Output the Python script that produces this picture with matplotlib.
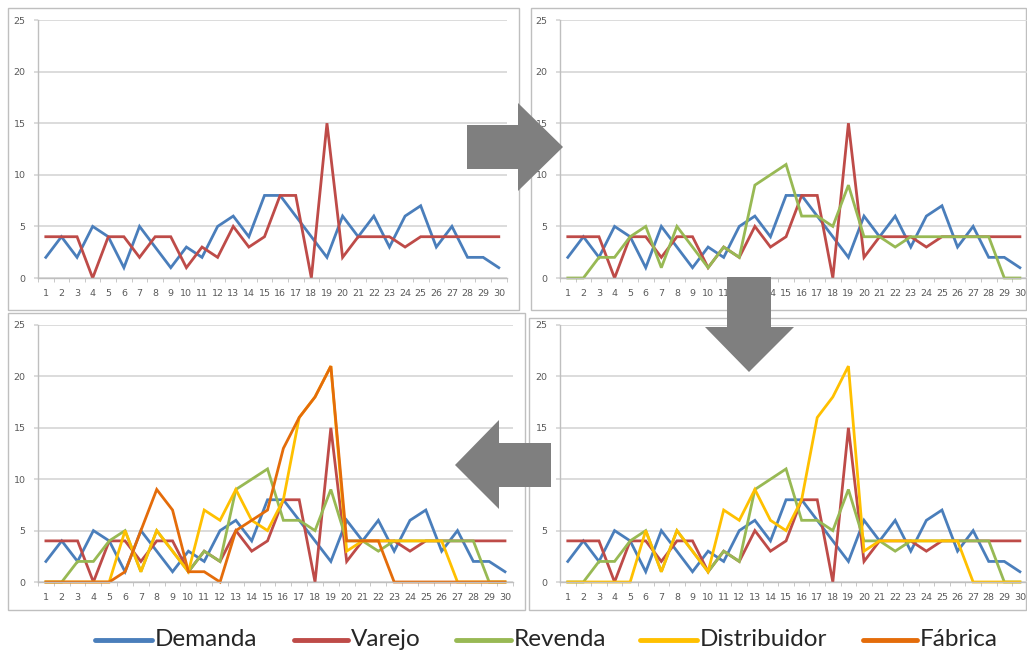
import matplotlib
matplotlib.use("Agg")
import matplotlib.pyplot as plt
from matplotlib.patches import Polygon, Rectangle
from matplotlib.lines import Line2D

W, H = 1027, 658

days = list(range(1, 31))
demanda = [2, 4, 2, 5, 4, 1, 5, 3, 1, 3, 2, 5, 6, 4, 8, 8, 6, 4, 2, 6, 4, 6, 3, 6, 7, 3, 5, 2, 2, 1]
varejo = [4, 4, 4, 0, 4, 4, 2, 4, 4, 1, 3, 2, 5, 3, 4, 8, 8, 0, 15, 2, 4, 4, 4, 3, 4, 4, 4, 4, 4, 4]
revenda = [0, 0, 2, 2, 4, 5, 1, 5, 3, 1, 3, 2, 9, 10, 11, 6, 6, 5, 9, 4, 4, 3, 4, 4, 4, 4, 4, 4, 0, 0]
distribuidor = [0, 0, 0, 0, 0, 5, 1, 5, 3, 1, 7, 6, 9, 6, 5, 8, 16, 18, 21, 3, 4, 4, 4, 4, 4, 4, 0, 0, 0, 0]
fabrica = [0, 0, 0, 0, 0, 1, 5, 9, 7, 1, 1, 0, 5, 6, 7, 13, 16, 18, 21, 4, 4, 4, 0, 0, 0, 0, 0, 0, 0, 0]

series_names = ["Demanda", "Varejo", "Revenda", "Distribuidor", "Fábrica"]
series_values = [demanda, varejo, revenda, distribuidor, fabrica]
series_colors = ["#4A7EBB", "#BE4B48", "#98B954", "#FFC000", "#E46C0A"]
y_ticks = [0, 5, 10, 15, 20, 25]

fig = plt.figure(figsize=(W / 100, H / 100), dpi=100)
fig.patch.set_facecolor("white")


def fx(px):
    return px / W


def fy(py):
    return 1 - py / H


# chart frames
frames = [(8, 8, 519, 310), (531, 8, 1026, 310), (8, 313, 525, 610), (529, 318, 1026, 610)]
for x0, y0, x1, y1 in frames:
    fig.patches.append(Rectangle((fx(x0), fy(y1)), fx(x1) - fx(x0), fy(y0) - fy(y1),
                                 transform=fig.transFigure, facecolor="none",
                                 edgecolor="#BFBFBF", linewidth=1.0, zorder=-1))

# plot areas: (left px, top px, bottom px, category width px), number of series shown
panels = [
    ((38, 20, 278, 15.62), 2),
    ((560, 20, 278, 15.59), 3),
    ((38, 325, 582, 15.83), 5),
    ((560, 325, 582, 15.59), 4),
]

for (left, top, bottom, cw), n in panels:
    width = cw * 30
    ax = fig.add_axes([fx(left), fy(bottom), width / W, (bottom - top) / H])
    ax.set_facecolor("none")
    ax.set_xlim(0.5, 30.5)
    ax.set_ylim(0, 25)
    ax.set_yticks(y_ticks)
    ax.yaxis.grid(True, color="#D9D9D9", linewidth=1.3)
    ax.set_axisbelow(True)
    for s in ("top", "right"):
        ax.spines[s].set_visible(False)
    ax.spines["left"].set_color("#BFBFBF")
    ax.spines["bottom"].set_color("#BFBFBF")
    ax.spines["left"].set_linewidth(1.0)
    ax.spines["bottom"].set_linewidth(1.0)
    ax.set_xticks(days)
    ax.set_xticklabels([str(d) for d in days])
    ax.set_xticks([d + 0.5 for d in range(0, 31)], minor=True)
    ax.tick_params(axis="x", which="major", length=0, pad=8, labelsize=6.8, labelcolor="#595959")
    ax.tick_params(axis="x", which="minor", length=3, color="#BFBFBF", direction="out")
    ax.tick_params(axis="y", length=3, color="#D9D9D9", width=1.3, pad=6,
                   labelsize=6.8, labelcolor="#595959")
    for vals, col in zip(series_values[:n], series_colors[:n]):
        ax.plot(days, vals, color=col, linewidth=2.0, solid_joinstyle="miter",
                clip_on=False)

# flow arrows between the charts
arrow_color = "#7F7F7F"
arrows = [
    [(467, 125), (518, 125), (518, 103), (563, 147), (518, 191), (518, 169), (467, 169)],
    [(727, 277), (771, 277), (771, 327), (794, 327), (749, 372), (705, 327), (727, 327)],
    [(551, 443), (499, 443), (499, 420), (455, 465), (499, 509), (499, 487), (551, 487)],
]
for pts in arrows:
    fig.patches.append(Polygon([(fx(x), fy(y)) for x, y in pts], closed=True,
                               transform=fig.transFigure, facecolor=arrow_color,
                               edgecolor="none", zorder=10))

# legend
legend_items = [(95, 152, 155), (294, 348, 351), (456, 511, 514), (640, 697, 700), (863, 917, 920)]
ly = 640
for (x0, x1, tx), name, col in zip(legend_items, series_names, series_colors):
    fig.lines.append(Line2D([fx(x0), fx(x1)], [fy(ly), fy(ly)], transform=fig.transFigure,
                            color=col, linewidth=3.5, solid_capstyle="round"))
    fig.text(fx(tx), fy(ly), name, ha="left", va="center", fontsize=17.5,
             family="Lato", color="#262626")

fig.savefig("out.png", dpi=100, facecolor="white")
